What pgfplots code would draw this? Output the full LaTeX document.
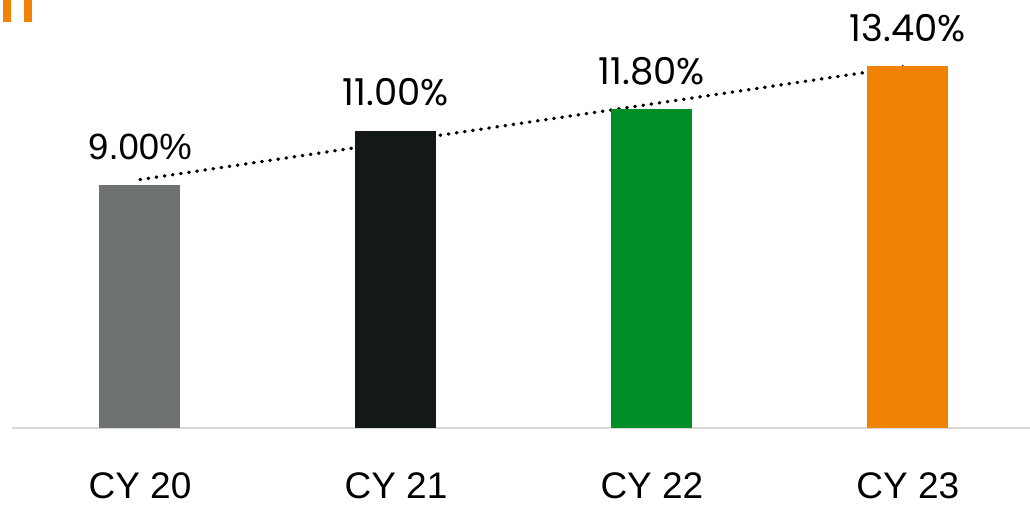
\documentclass[border=0pt]{standalone}
\usepackage{fontspec}
\setmainfont{Liberation Sans}
\newfontfamily\pop{Poppins}
\usepackage{pgfplots}
\pgfplotsset{compat=1.18}
\definecolor{cgray}{HTML}{6F736F}
\definecolor{cblack}{HTML}{131914}
\definecolor{cgreen}{HTML}{028E27}
\definecolor{corange}{HTML}{F08306}
\definecolor{cline}{HTML}{D9D9D9}
\begin{document}
\begin{tikzpicture}
\path[use as bounding box] (0,0) rectangle (1030pt,505pt);
\fill[corange] (3pt,483pt) rectangle (11pt,505pt);
\fill[corange] (24pt,483pt) rectangle (32pt,505pt);
\begin{axis}[
  at={(12pt,77pt)}, anchor=south west,
  scale only axis, width=1018pt, height=428pt,
  xmin=-0.5, xmax=3.477, ymin=0, ymax=15.85,
  hide y axis,
  axis x line*=bottom,
  x axis line style={draw=cline, line width=2pt, -},
  xtick={0,1,2,3},
  xticklabels={CY 20,CY 21,CY 22,CY 23},
  major tick length=0pt,
  xticklabel style={anchor=base, yshift=-71pt, inner sep=0pt, font=\fontsize{37}{40}\selectfont},
  clip=false,
  every node near coord/.append style={anchor=base, yshift=25pt, text=black},
]
\addplot[sharp plot, black, line width=3.4pt, dash pattern=on 0.6pt off 7.6pt, line cap=round] coordinates {(0,9.2) (3,13.4)};
\addplot[ybar, bar width=81pt, bar shift=0pt, fill=cgray, draw=none,
  nodes near coords={9.00\%}, every node near coord/.append style={font=\fontsize{36.5}{40}\selectfont}] coordinates {(0,9.0)};
\addplot[ybar, bar width=81pt, bar shift=0pt, fill=cblack, draw=none,
  nodes near coords={11.00\%}, every node near coord/.append style={font=\pop\fontsize{37}{40}\selectfont}] coordinates {(1,11.0)};
\addplot[ybar, bar width=81pt, bar shift=0pt, fill=cgreen, draw=none,
  nodes near coords={11.80\%}, every node near coord/.append style={font=\pop\fontsize{37}{40}\selectfont}] coordinates {(2,11.8)};
\addplot[ybar, bar width=81pt, bar shift=0pt, fill=corange, draw=none,
  nodes near coords={13.40\%}, every node near coord/.append style={font=\pop\fontsize{37}{40}\selectfont}] coordinates {(3,13.4)};
\end{axis}
\end{tikzpicture}
\end{document}
